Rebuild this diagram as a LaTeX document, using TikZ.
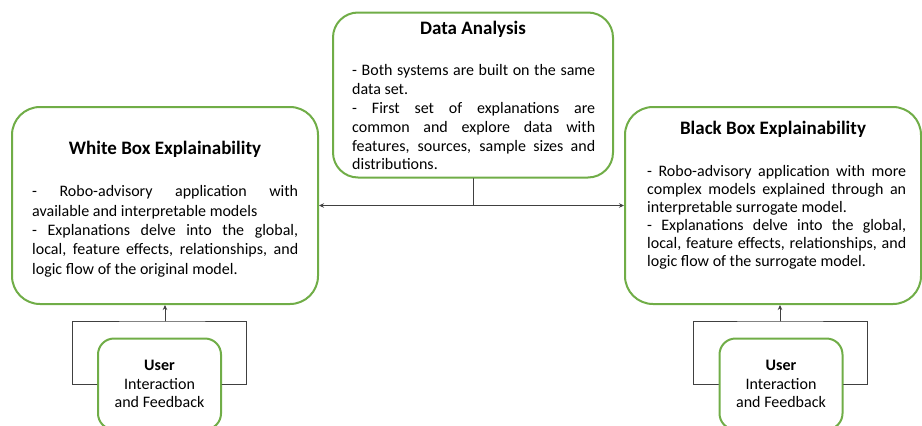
\documentclass[tikz,border=0pt]{standalone}
\usepackage{fontspec}
\setmainfont{Carlito}
\usetikzlibrary{positioning,arrows.meta}
\definecolor{boxgreen}{RGB}{112,173,71}
\definecolor{linegray}{RGB}{64,64,64}
\tikzset{
  >={Stealth},
  conn/.style ={draw=linegray, line width=0.9pt},
  arr/.style  ={conn, -{Stealth[length=5pt,width=4.5pt]}},
}

\begin{document}
\begin{tikzpicture}[x=1pt, y=-1pt, line cap=round,
  panel/.style={draw=boxgreen, line width=2pt, rounded corners=28pt, fill=white},
  userbox/.style={draw=boxgreen, line width=2pt, rounded corners=16pt,
    minimum width=123pt, minimum height=91pt, inner sep=0pt, align=center,
    font=\fontsize{16}{18.5}\selectfont},
  heading/.style={font=\fontsize{19}{23}\selectfont\bfseries, anchor=base},
  bodytext/.style={font=\fontsize{16}{18.8}\selectfont, align=justify,
    anchor=north west, inner sep=0pt}
]
\useasboundingbox (0,0) rectangle (922,426);

%--- Panels ---
\node[panel, minimum width=306pt, minimum height=197pt] (white) at (165,205.5) {};
\node[panel, minimum width=280pt, minimum height=165pt, rounded corners=25pt] (data) at (473,95) {};
\node[panel, minimum width=296pt, minimum height=197pt] (black) at (773,205.5) {};

% Titles
\node[heading] (whiteT) at (165,154) {White Box Explainability};
\node[heading] (dataT) at (473,34) {Data Analysis};
\node[heading] (blackT) at (773,134) {Black Box Explainability};

% Body texts
\node[bodytext, text width=266pt, font=\fontsize{16}{19.4}\selectfont] (whiteB) at (32,183) {\strut- Robo-advisory application with\linebreak
  available and interpretable models\newline
  - Explanations delve into the global,\linebreak
  local, feature effects, relationships, and\linebreak
  logic flow of the original model.};
\node[bodytext, text width=243pt] (dataB) at (352,62.5) {\strut- Both systems are built on the same\linebreak
  data set.\newline
  - First set of explanations are\linebreak
  common and explore data with\linebreak
  features, sources, sample sizes and\linebreak
  distributions.};
\node[bodytext, text width=259pt, font=\fontsize{16}{18}\selectfont] (blackB) at (647,164) {\strut- Robo-advisory application with more\linebreak
  complex models explained through an\linebreak
  interpretable surrogate model.\newline
  - Explanations delve into the global,\linebreak
  local, feature effects, relationships, and\linebreak
  logic flow of the surrogate model.};

%--- User feedback boxes ---
\node[userbox] (userL) at (159.5,384) {\textbf{User}\\Interaction\\and Feedback};
\node[userbox] (userR) at (781,384) {\textbf{User}\\Interaction\\and Feedback};

%--- Connectors ---
\coordinate (split) at (473,205.5);
\draw[conn] (data.south) -- (split);
\draw[arr] (split) -- (white.east);
\draw[arr] (split) -- (black.west);

% feedback loops
\coordinate (loopL) at (165,321);
\coordinate (loopR) at (780,321);
\draw[conn] (userL.west) -- ++(-25,0) |- (loopL) -| ([xshift=24pt]userL.east) -- (userL.east);
\draw[arr] (loopL) -- (white.south);
\draw[conn] (userR.west) -- ++(-25,0) |- (loopR) -| ([xshift=24pt]userR.east) -- (userR.east);
\draw[arr] (loopR) -- (loopR |- black.south);

\end{tikzpicture}
\end{document}
